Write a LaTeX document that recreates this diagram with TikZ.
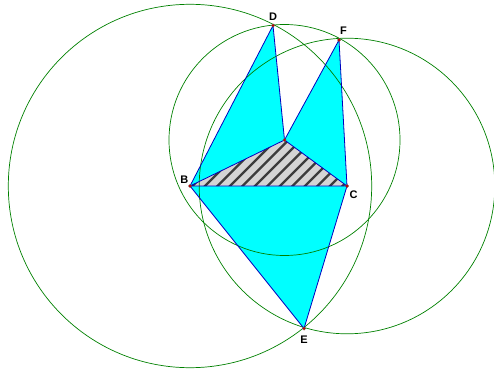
\documentclass[tikz,border=0pt]{standalone}
\usepackage{fontspec}
\setmainfont{Liberation Sans}
\usetikzlibrary{positioning}
\definecolor{aqua}{RGB}{0, 255, 255}
\definecolor{edgeblue}{RGB}{0, 0, 190}
\definecolor{circgreen}{RGB}{0, 128, 0}
\definecolor{hatchgray}{RGB}{212, 212, 212}
\definecolor{stripegray}{RGB}{60, 60, 60}
\definecolor{pointred}{RGB}{190, 0, 0}

\begin{document}
\begin{tikzpicture}[
    x=1pt, y=-1pt,
    face/.style={fill=aqua},
    edge/.style={draw=edgeblue, line width=0.8pt, line join=round},
    circ/.style={draw=circgreen, line width=0.7pt},
    stripe/.style={draw=stripegray, line width=2.2pt},
    vertex/.style={circle, fill=pointred, draw=black!60, line width=0.3pt, inner sep=0pt, minimum size=3.5pt},
    lab/.style={inner sep=0pt, font=\fontsize{11}{13}\selectfont\bfseries}
]
    \useasboundingbox (0,0) rectangle (494,371);
    \clip (0,0) rectangle (494,371);

    % Points
    \coordinate (A) at (284.5,140);
    \coordinate (B) at (190,186);
    \coordinate (C) at (347,186);
    \coordinate (D) at (273,25.5);
    \coordinate (E) at (304,328.5);
    \coordinate (F) at (339,40);

    % Outer triangles
    \fill [face] (B) -- (D) -- (A) -- (F) -- (C) -- (E) -- cycle;

    % Hatched triangle
    \fill [hatchgray] (A) -- (B) -- (C) -- cycle;
    \begin{scope}
        \clip (A) -- (B) -- (C) -- cycle;
        \foreach \s in {366,378.5,...,541}
            \draw [stripe] (\s-200,200) -- (\s-120,120);
    \end{scope}

    % Circles
    \draw [circ] (B) circle [radius=181.7];
    \draw [circ] (A) circle [radius=115.5];
    \draw [circ] (C) circle [radius=147.8];

    % Edges
    \draw [edge] (B) -- (D) -- (A) -- (F) -- (C) -- (E) -- cycle;
    \draw [edge] (A) -- (B) -- (C) -- cycle;

    % Vertices
    \node (dA) [vertex] at (A) {};
    \node (dB) [vertex] at (B) {};
    \node (dC) [vertex] at (C) {};
    \node (dD) [vertex] at (D) {};
    \node (dE) [vertex] at (E) {};
    \node (dF) [vertex] at (F) {};

    % Labels
    \node (labB) [lab, above left=2pt and 1.5pt of B] {B};
    \node (labC) [lab, below right=5pt and 2.5pt of C] {C};
    \node (labD) [lab, above=5pt of D] {D};
    \node (labE) [lab, below=7pt of E] {E};
    \node (labF) [lab, above right=5pt and 1pt of F] {F};
\end{tikzpicture}
\end{document}
